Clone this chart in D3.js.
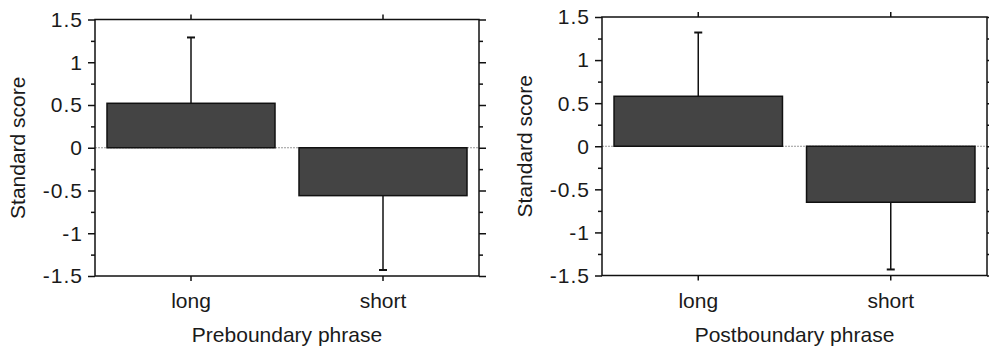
<!DOCTYPE html>
<html>
<head>
<meta charset="utf-8">
<script src="https://cdn.jsdelivr.net/npm/d3@7"></script>
<style>
  body { margin: 0; background: #fff; }
  svg text { font-family: "Liberation Sans", Arial, Helvetica, sans-serif; fill: #1a1a1a; }
</style>
</head>
<body>
<div class="svg-container"></div>
<script>
// data
const categories = ["long", "short"];
const preMeans = [0.52, -0.56];
const preErrors = [0.77, 0.87];
const postMeans = [0.58, -0.65];
const postErrors = [0.74, 0.78];
const yMajorTicks = [-1.5, -1, -0.5, 0, 0.5, 1, 1.5];
const yMinorTicks = [-1.25, -0.75, -0.25, 0.25, 0.75, 1.25];
const yTitle = "Standard score";
const panelTitles = ["Preboundary phrase", "Postboundary phrase"];

const width = 989, height = 348;

const panels = [
  {means: preMeans, errors: preErrors, title: panelTitles[0], left: 95, top: 19.5, w: 384, h: 256.5},
  {means: postMeans, errors: postErrors, title: panelTitles[1], left: 602, top: 17, w: 385, h: 258.5}
];

const svg = d3.select(".svg-container").append("svg")
  .attr("width", width)
  .attr("height", height);

panels.forEach(p => {
  const g = svg.append("g").attr("transform", `translate(${p.left},${p.top})`);

  const x = d3.scaleBand().domain(categories).range([0, p.w])
    .paddingInner(0.125).paddingOuter(0.0625);
  const y = d3.scaleLinear().domain([-1.5, 1.5]).range([p.h, 0]);

  // zero line
  g.append("line")
    .attr("x1", 0).attr("x2", p.w)
    .attr("y1", y(0)).attr("y2", y(0))
    .style("stroke", "#999")
    .style("stroke-width", 1)
    .style("stroke-dasharray", "2,1");

  // error bars (drawn before bars so the stem starts at bar edge)
  const err = g.append("g");
  categories.forEach((c, i) => {
    const cx = x(c) + x.bandwidth() / 2;
    const v = p.means[i];
    const end = v >= 0 ? v + p.errors[i] : v - p.errors[i];
    err.append("line")
      .attr("x1", cx).attr("x2", cx)
      .attr("y1", y(v)).attr("y2", y(end))
      .style("stroke", "#111").style("stroke-width", 1.5);
    err.append("line")
      .attr("x1", cx - 4).attr("x2", cx + 4)
      .attr("y1", y(end)).attr("y2", y(end))
      .style("stroke", "#111").style("stroke-width", 2);
  });

  // bars
  g.selectAll("rect.bar")
    .data(categories)
    .join("rect")
    .attr("class", "bar")
    .attr("x", c => x(c))
    .attr("width", x.bandwidth())
    .attr("y", (c, i) => y(Math.max(0, p.means[i])))
    .attr("height", (c, i) => Math.abs(y(p.means[i]) - y(0)))
    .style("fill", "#444")
    .style("stroke", "#111")
    .style("stroke-width", 1.5);

  // axes: ticks only, the frame is drawn as a rect
  const styleAxis = sel => {
    sel.select(".domain").remove();
    sel.selectAll(".tick line").style("stroke", "#111").style("stroke-width", 1.5);
    sel.selectAll(".tick text").remove();
  };

  g.append("g").call(d3.axisLeft(y).tickValues(yMajorTicks).tickSize(7)).call(styleAxis);
  g.append("g").call(d3.axisLeft(y).tickValues(yMinorTicks).tickSize(4)).call(styleAxis);
  g.append("g").attr("transform", `translate(${p.w},0)`)
    .call(d3.axisRight(y).tickValues(yMajorTicks).tickSize(7)).call(styleAxis);
  g.append("g").attr("transform", `translate(${p.w},0)`)
    .call(d3.axisRight(y).tickValues(yMinorTicks).tickSize(4)).call(styleAxis);
  g.append("g").call(d3.axisTop(x).tickSize(5)).call(styleAxis);
  g.append("g").attr("transform", `translate(0,${p.h})`)
    .call(d3.axisBottom(x).tickSize(5)).call(styleAxis);

  g.append("rect")
    .attr("width", p.w).attr("height", p.h)
    .style("fill", "none")
    .style("stroke", "#111")
    .style("stroke-width", 1.5);

  // y tick labels
  g.selectAll("text.ylab")
    .data(yMajorTicks)
    .join("text")
    .attr("class", "ylab")
    .attr("x", -12)
    .attr("y", d => y(d))
    .attr("dy", "0.35em")
    .style("text-anchor", "end")
    .style("font-size", "21px")
    .style("letter-spacing", "1px")
    .text(d => String(d));

  // category labels
  g.selectAll("text.xlab")
    .data(categories)
    .join("text")
    .attr("class", "xlab")
    .attr("x", c => x(c) + x.bandwidth() / 2)
    .attr("y", 308 - p.top)
    .style("text-anchor", "middle")
    .style("font-size", "21px")
    .text(c => c);

  // axis titles
  g.append("text")
    .attr("x", p.w / 2)
    .attr("y", 341.5 - p.top)
    .style("text-anchor", "middle")
    .style("font-size", "21px")
    .text(p.title);

  g.append("text")
    .attr("transform", `translate(-70,${p.h / 2}) rotate(-90)`)
    .style("text-anchor", "middle")
    .style("font-size", "21px")
    .text(yTitle);
});
</script>
</body>
</html>
